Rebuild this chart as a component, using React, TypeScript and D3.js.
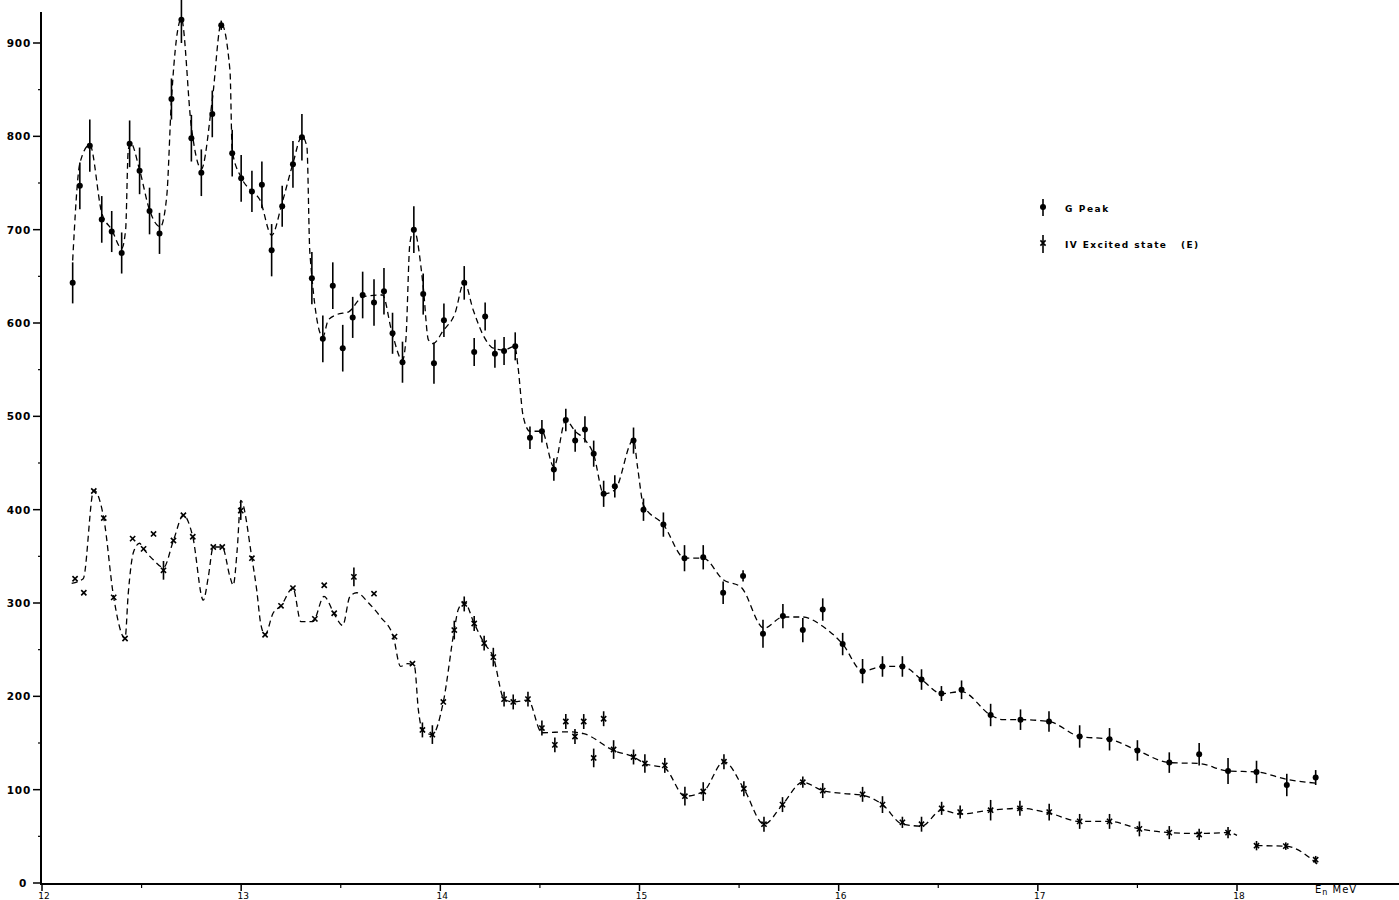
import React from 'react';
import * as d3 from 'd3';

// [E (MeV), counts, error]
const gPeak: [number, number, number][] = [
  [12.154, 643, 22], [12.19, 747, 25], [12.24, 790, 28], [12.30, 711, 25], [12.35, 698, 22],
  [12.40, 675, 22], [12.44, 792, 25], [12.49, 763, 25], [12.54, 720, 25], [12.59, 696, 22],
  [12.65, 840, 22], [12.70, 925, 25], [12.75, 798, 25], [12.80, 761, 25], [12.855, 824, 25],
  [12.90, 919, 5], [12.955, 782, 25], [13.00, 755, 25], [13.054, 741, 22], [13.104, 748, 25],
  [13.153, 678, 28], [13.206, 725, 22], [13.26, 770, 25], [13.305, 799, 25], [13.355, 648, 28],
  [13.41, 583, 25], [13.46, 640, 25], [13.51, 573, 25], [13.56, 606, 22], [13.61, 630, 25],
  [13.667, 622, 25], [13.717, 634, 25], [13.76, 589, 22], [13.81, 558, 22], [13.867, 700, 25],
  [13.914, 631, 22], [13.968, 557, 22], [14.018, 603, 18], [14.12, 643, 18], [14.17, 569, 15],
  [14.225, 607, 15], [14.274, 567, 15], [14.32, 570, 15], [14.376, 575, 15], [14.45, 477, 12],
  [14.51, 484, 12], [14.57, 443, 12], [14.63, 496, 12], [14.677, 474, 12], [14.726, 486, 14],
  [14.77, 460, 14], [14.82, 417, 14], [14.876, 425, 12], [14.97, 474, 14], [15.02, 400, 12],
  [15.12, 384, 13], [15.226, 348, 14], [15.32, 349, 13], [15.42, 311, 12], [15.52, 329, 6],
  [15.62, 267, 15], [15.72, 286, 13], [15.82, 271, 13], [15.92, 293, 12], [16.02, 256, 12],
  [16.12, 227, 13], [16.22, 232, 11], [16.32, 232, 11], [16.416, 218, 11], [16.516, 203, 8],
  [16.617, 207, 10], [16.763, 180, 12], [16.913, 175, 11], [17.056, 173, 11], [17.21, 157, 12],
  [17.36, 154, 12], [17.50, 142, 11], [17.66, 129, 11], [17.81, 138, 12], [17.955, 120, 14],
  [18.098, 119, 12], [18.25, 105, 12], [18.395, 113, 8],
];

const excited: [number, number, number][] = [
  [12.166, 326, 0], [12.21, 311, 0], [12.26, 420, 0], [12.31, 391, 0], [12.36, 306, 0],
  [12.417, 262, 0], [12.455, 369, 0], [12.51, 358, 0], [12.56, 374, 0], [12.61, 335, 10],
  [12.66, 367, 0], [12.71, 394, 0], [12.757, 371, 0], [12.86, 360, 0], [12.905, 360, 0],
  [12.998, 399, 10], [13.054, 348, 0], [13.12, 266, 0], [13.20, 297, 0], [13.26, 316, 0],
  [13.37, 283, 0], [13.417, 319, 0], [13.467, 289, 0], [13.566, 328, 10], [13.667, 310, 0],
  [13.77, 264, 0], [13.86, 235, 0], [13.91, 164, 8], [13.96, 159, 10], [14.015, 194, 0],
  [14.07, 271, 10], [14.12, 299, 8], [14.17, 278, 8], [14.22, 257, 8], [14.266, 242, 10],
  [14.32, 197, 8], [14.366, 194, 8], [14.44, 197, 8], [14.51, 166, 8], [14.575, 148, 8],
  [14.63, 173, 8], [14.676, 157, 8], [14.72, 173, 8], [14.77, 134, 10], [14.82, 176, 8],
  [14.87, 143, 10], [14.97, 135, 8], [15.027, 128, 10], [15.127, 126, 8], [15.228, 93, 10],
  [15.32, 98, 10], [15.424, 130, 8], [15.524, 101, 8], [15.625, 63, 8], [15.718, 84, 8],
  [15.82, 108, 6], [15.92, 99, 8], [16.12, 95, 8], [16.22, 84, 9], [16.32, 65, 6],
  [16.416, 63, 8], [16.517, 80, 7], [16.61, 76, 7], [16.763, 78, 11], [16.91, 80, 8],
  [17.057, 76, 9], [17.21, 66, 8], [17.36, 66, 8], [17.51, 58, 8], [17.66, 54, 7],
  [17.81, 52, 6], [17.955, 54, 6], [18.098, 40, 5], [18.245, 39.5, 4], [18.395, 25, 4],
];

// hand-drawn guide curves
const gPeakFit: [number, number][] = [
  [12.154, 667], [12.19, 771], [12.24, 791], [12.30, 718], [12.35, 700], [12.40, 680], [12.42, 700],
  [12.433, 785], [12.445, 793], [12.49, 764], [12.54, 721], [12.594, 703], [12.626, 735], [12.65, 839],
  [12.70, 926], [12.75, 810], [12.80, 765], [12.855, 839], [12.90, 921], [12.944, 870], [12.955, 785],
  [13.00, 756], [13.054, 741], [13.094, 732], [13.153, 694], [13.206, 729], [13.26, 771], [13.305, 800],
  [13.33, 789], [13.345, 675], [13.41, 585], [13.437, 603], [13.48, 609], [13.54, 612], [13.61, 628],
  [13.71, 630], [13.755, 592], [13.81, 560], [13.827, 582], [13.847, 685], [13.867, 700], [13.914, 639],
  [13.94, 582], [13.964, 578], [14.015, 592], [14.073, 610], [14.12, 644], [14.165, 614], [14.215, 587],
  [14.266, 573], [14.32, 571], [14.374, 575], [14.39, 553], [14.416, 500], [14.45, 484], [14.51, 484],
  [14.57, 446], [14.63, 496], [14.677, 484], [14.726, 475], [14.77, 459], [14.82, 417], [14.876, 421],
  [14.97, 475], [14.99, 446], [15.02, 405], [15.12, 384], [15.228, 348], [15.32, 348], [15.42, 325],
  [15.51, 317], [15.625, 273], [15.72, 285], [15.82, 285], [15.92, 275], [16.02, 256], [16.12, 227],
  [16.22, 232], [16.32, 232], [16.416, 218], [16.516, 203], [16.617, 205], [16.763, 180], [16.826, 175],
  [16.913, 175], [17.056, 173], [17.21, 157], [17.36, 154], [17.50, 142], [17.66, 129], [17.81, 128],
  [17.955, 120], [18.098, 119], [18.25, 111], [18.395, 107],
];

const excitedFit: [number, number][] = [
  [12.149, 321], [12.207, 326], [12.26, 421], [12.31, 391], [12.36, 306], [12.417, 262], [12.433, 310],
  [12.46, 355], [12.49, 364], [12.51, 358], [12.56, 346], [12.61, 338], [12.66, 367], [12.71, 394],
  [12.757, 371], [12.81, 303], [12.835, 328], [12.86, 360], [12.905, 360], [12.944, 328], [12.96, 319],
  [12.98, 357], [12.998, 410], [13.054, 348], [13.078, 314], [13.098, 278], [13.12, 266], [13.16, 289],
  [13.20, 297], [13.26, 316], [13.30, 280], [13.36, 280], [13.416, 307], [13.47, 287], [13.51, 276],
  [13.546, 307], [13.58, 311], [13.64, 300], [13.70, 285], [13.764, 264], [13.80, 232], [13.835, 235],
  [13.87, 232], [13.89, 185], [13.91, 164], [13.96, 159], [14.015, 194], [14.07, 271], [14.09, 293],
  [14.12, 301], [14.17, 278], [14.22, 257], [14.266, 242], [14.32, 197], [14.366, 194], [14.44, 196],
  [14.51, 161], [14.64, 162], [14.72, 160], [14.87, 142], [14.97, 135], [15.027, 128], [15.127, 123],
  [15.228, 93], [15.32, 98], [15.424, 130], [15.524, 101], [15.625, 63], [15.718, 84], [15.82, 108],
  [15.92, 99], [16.02, 96], [16.12, 94], [16.22, 84], [16.32, 63], [16.416, 61], [16.517, 78],
  [16.61, 74], [16.763, 78], [16.91, 80], [17.057, 75], [17.21, 66], [17.36, 66], [17.51, 58],
  [17.66, 54], [17.81, 53], [17.955, 54], [18.0, 51],
];
const excitedFitTail: [number, number][] = [[18.098, 40], [18.245, 39.5], [18.41, 19]];

const xTicks = [12, 13, 14, 15, 16, 17, 18];
const xMinor = [12.5, 13.5, 14.5, 15.5, 16.5, 17.5];
const yTicks = [0, 100, 200, 300, 400, 500, 600, 700, 800, 900];
const yMinor = [50, 150, 250, 350, 450, 550, 650, 750, 850];
const legendLabels = ['G Peak', 'IV Excited state   (E)'];

const W = 1399;
const H = 900;

export default function App() {
  const x = d3.scaleLinear().domain([12, 18]).range([42, 1237]);
  const y = d3.scaleLinear().domain([0, 900]).range([883, 43]);
  const line = d3.line<[number, number]>()
    .x(d => x(d[0]))
    .y(d => y(d[1]))
    .curve(d3.curveMonotoneX);

  const font = "'DejaVu Sans', sans-serif";

  const cross = (cx: number, cy: number, s: number, key: string) => (
    <path key={key} d={`M${cx - s},${cy - s}L${cx + s},${cy + s}M${cx - s},${cy + s}L${cx + s},${cy - s}`}
      stroke="#000" strokeWidth={1.6} />
  );

  return (
    <svg width={W} height={H} style={{ position: 'absolute', left: 0, top: 0, background: '#fff' }}>
      <rect width={W} height={H} fill="#fff" />

      {/* axes */}
      <line x1={41} x2={41} y1={12} y2={885} stroke="#000" strokeWidth={2} />
      <line x1={40} x2={W} y1={884} y2={884} stroke="#000" strokeWidth={2} />

      {yTicks.map(t => (
        <g key={'y' + t}>
          <line x1={33} x2={41} y1={y(t)} y2={y(t)} stroke="#000" strokeWidth={1.5} />
          <text x={t === 0 ? 27 : 31} y={y(t) + 4} textAnchor="end" fontFamily={font} fontWeight="bold"
            fontSize={10.5} letterSpacing={0.8}>{t}</text>
        </g>
      ))}
      {yMinor.map(t => (
        <line key={'ym' + t} x1={38} x2={41} y1={y(t)} y2={y(t)} stroke="#000" strokeWidth={1.2} />
      ))}
      {xTicks.map(t => (
        <g key={'x' + t}>
          <line x1={x(t)} x2={x(t)} y1={884} y2={891} stroke="#000" strokeWidth={1.5} />
          <text x={x(t) + 2} y={899} textAnchor="middle" fontFamily={font} fontSize={9}>{t}</text>
        </g>
      ))}
      {xMinor.map(t => (
        <line key={'xm' + t} x1={x(t)} x2={x(t)} y1={884} y2={888} stroke="#000" strokeWidth={1.2} />
      ))}
      <text x={1315} y={893} fontFamily={font} fontSize={10} letterSpacing={1}>
        E<tspan fontSize={8} dy={2}>n</tspan><tspan dy={-2}> MeV</tspan>
      </text>

      {/* guide curves */}
      <path d={line(gPeakFit) || ''} fill="none" stroke="#000" strokeWidth={1.3} strokeDasharray="6 4" />
      <path d={line(excitedFit) || ''} fill="none" stroke="#000" strokeWidth={1.3} strokeDasharray="6 4" />
      <path d={line(excitedFitTail) || ''} fill="none" stroke="#000" strokeWidth={1.3} strokeDasharray="6 4" />

      {/* G peak */}
      {gPeak.map((d, i) => (
        <g key={'g' + i}>
          {d[2] > 0 && <line x1={x(d[0])} x2={x(d[0])} y1={y(d[1] + d[2])} y2={y(d[1] - d[2])}
            stroke="#000" strokeWidth={1.6} />}
          <circle cx={x(d[0])} cy={y(d[1])} r={3} fill="#000" />
        </g>
      ))}

      {/* IV excited state */}
      {excited.map((d, i) => (
        <g key={'e' + i}>
          {d[2] > 0 && <line x1={x(d[0])} x2={x(d[0])} y1={y(d[1] + d[2])} y2={y(d[1] - d[2])}
            stroke="#000" strokeWidth={1.6} />}
          {cross(x(d[0]), y(d[1]), 2.6, 'c' + i)}
        </g>
      ))}

      {/* legend */}
      <line x1={1043} x2={1043} y1={199} y2={216} stroke="#000" strokeWidth={1.6} />
      <circle cx={1043} cy={207} r={3} fill="#000" />
      <text x={1065} y={212} fontFamily={font} fontWeight="bold" fontSize={9} letterSpacing={1.6}>{legendLabels[0]}</text>
      <line x1={1043} x2={1043} y1={235} y2={253} stroke="#000" strokeWidth={1.6} />
      {cross(1043, 243, 2.6, 'leg')}
      <text x={1065} y={248} fontFamily={font} fontWeight="bold" fontSize={9} letterSpacing={1.4}
        style={{ whiteSpace: 'pre' }}>{legendLabels[1]}</text>
    </svg>
  );
}
